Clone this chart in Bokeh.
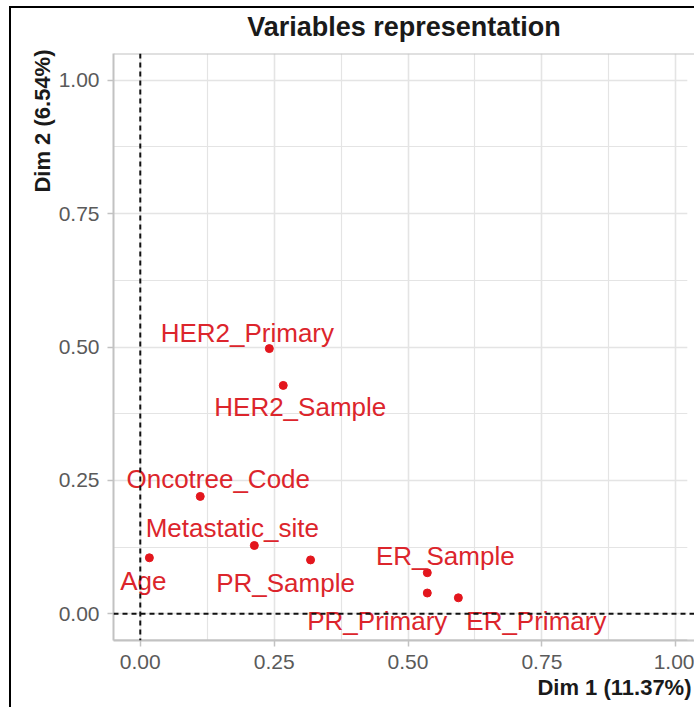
from bokeh.core.properties import value
from bokeh.embed import file_html
from bokeh.layouts import column
from bokeh.models import ColumnDataSource, FixedTicker, Span, Title
from bokeh.plotting import figure
from bokeh.resources import INLINE

# PCA variable coordinates on the first two dimensions
variables = ["HER2_Primary", "HER2_Sample", "Oncotree_Code", "Metastatic_site",
             "Age", "PR_Sample", "ER_Sample", "PR_Primary", "ER_Primary"]
dim1 = [0.241, 0.267, 0.112, 0.213, 0.017, 0.318, 0.536, 0.536, 0.594]
dim2 = [0.497, 0.428, 0.220, 0.128, 0.105, 0.101, 0.077, 0.039, 0.030]

tick_values = [0.0, 0.25, 0.5, 0.75, 1.0]
tick_labels = ["0.00", "0.25", "0.50", "0.75", "1.00"]
minor_values = [0.125, 0.375, 0.625, 0.875]

plot_title = "Variables representation"
dim1_title = "Dim 1 (11.37%)"
dim2_title = "Dim 2 (6.54%)"

# repelled label placement, pixel nudges from each point
label_dx = [-22, 17, 18, -22, -6, -25, 18, -50, 78]
label_dy = [-16, 22, -17, -18, 23, 23, -17, 28, 23]

FONT = "Liberation Sans"
RED_PT = "#e3161d"
RED_TXT = "#dc252c"
GRID = "#e4e4e4"
BORDER = "#c2c2c2"
DARK = "#1a1a1a"

X_END = 1.035

src = ColumnDataSource(dict(x=dim1, y=dim2, name=variables, dx=label_dx, dy=label_dy))

p = figure(width=683, height=699, title=None,
           x_range=(-0.05, X_END), y_range=(-0.05, 1.05),
           output_backend="svg", toolbar_location=None,
           min_border_left=102, min_border_right=0,
           min_border_top=45, min_border_bottom=67)
p.outline_line_color = None
p.background_fill_color = "white"
p.border_fill_color = "white"

# small gap between the frame and the main title
p.add_layout(Title(text=" ", text_font=FONT, text_font_size="9px", standoff=0), "above")
p.add_layout(Title(text=plot_title, align="center", text_font=FONT,
                   text_font_size="27px", text_font_style="bold",
                   text_color=DARK, standoff=0), "above")

# axes and grid
for ax in (p.xaxis[0], p.yaxis[0]):
    ax.ticker = FixedTicker(ticks=tick_values, minor_ticks=minor_values)
    ax.major_label_overrides = dict(zip(tick_values, tick_labels))
    ax.axis_line_color = BORDER
    ax.axis_line_width = 2
    ax.major_tick_line_color = BORDER
    ax.major_tick_line_width = 1.5
    ax.major_tick_out = 6
    ax.major_tick_in = 0
    ax.minor_tick_line_color = None
    ax.major_label_text_font = FONT
    ax.major_label_text_font_size = "21px"
    ax.major_label_text_color = "#5a5a5a"
    ax.major_label_standoff = 8

for g in (p.xgrid[0], p.ygrid[0]):
    g.grid_line_color = GRID
    g.grid_line_width = 1.6
    g.minor_grid_line_color = GRID
    g.minor_grid_line_width = 1.2

# axis titles, aligned to the panel ends
p.add_layout(Title(text=dim1_title, align="right", offset=3, text_font=FONT,
                   text_font_size="22px", text_font_style="bold",
                   text_color=DARK, standoff=2), "below")
p.add_layout(Title(text=dim2_title, align="right", offset=-4, text_font=FONT,
                   text_font_size="22px", text_font_style="bold",
                   text_color=DARK, standoff=2), "left")

# the panel runs past the right edge: keep that edge open
p.add_layout(Span(location=X_END - 0.006, dimension="height",
                  line_color="white", line_width=8))

# top and bottom edges of the panel
p.add_layout(Span(location=1.05, dimension="width", line_color=BORDER, line_width=2))
p.add_layout(Span(location=-0.05, dimension="width", line_color=BORDER, line_width=2))

# points and their labels
p.scatter("x", "y", source=src, size=8, color=RED_PT)
p.text("x", "y", text="name", source=src, x_offset="dx", y_offset="dy",
       text_align="center", text_baseline="middle",
       text_font=value(FONT), text_font_size="26px", text_color=RED_TXT)

# reference lines through the origin
p.add_layout(Span(location=0, dimension="width", line_color="#111111",
                  line_width=2, line_dash="5 4"))
p.add_layout(Span(location=0, dimension="height", line_color="#111111",
                  line_width=2, line_dash="5 4"))

root = column(p, margin=(6, 0, 0, 9),
              styles={"border-left": "2px solid #000", "border-top": "2px solid #000"})

with open("out.html", "w") as f:
    f.write(file_html(root, INLINE))
